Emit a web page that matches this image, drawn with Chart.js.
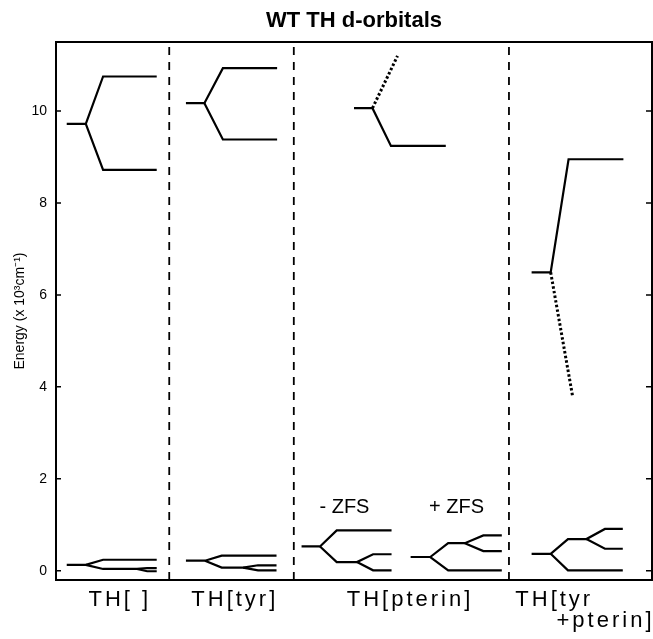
<!DOCTYPE html>
<html lang="en">
<head>
    <meta charset="UTF-8">
    <title>WT TH d-orbitals</title>
    <script src="https://cdn.jsdelivr.net/npm/chart.js"></script>
    <style>
        body { margin: 0; background: #fff; }
    </style>
</head>
<body>
    <canvas id="orbitalChart" width="653" height="639"></canvas>
    <script>
        // x = position across the diagram (0..100), y = energy in 10^3 cm^-1
        const panelLabels = ['TH[ ]', 'TH[tyr]', 'TH[pterin]', 'TH[tyr', '+pterin]'];
        const panelLabelX = [10.7, 30.0, 59.4, 83.6, 92.2];
        const panelLabelRow = [0, 0, 0, 0, 1];
        const dividerX = [19.0, 39.9, 76.0];
        const yTicks = [0, 2, 4, 6, 8, 10];
        const zfsLabels = ['- ZFS', '+ ZFS'];
        const zfsX = [48.4, 67.2];
        const zfsY = [1.26, 1.26];

        // TH[ ]
        const thHighUp = [[1.8, 9.72], [5.0, 9.72], [7.9, 10.75], [16.9, 10.75]];
        const thHighDown = [[5.0, 9.72], [7.9, 8.72], [16.9, 8.72]];
        const thLowUp = [[1.8, 0.13], [5.0, 0.13], [7.9, 0.24], [16.9, 0.24]];
        const thLowDown = [[5.0, 0.13], [7.9, 0.04], [13.6, 0.04], [15.3, 0.06], [16.9, 0.06]];
        const thLowSplit = [[13.6, 0.04], [15.3, -0.01], [16.9, -0.01]];

        // TH[tyr]
        const tyrHighUp = [[21.8, 10.17], [24.9, 10.17], [28.0, 10.93], [37.1, 10.93]];
        const tyrHighDown = [[24.9, 10.17], [28.0, 9.38], [37.1, 9.38]];
        const tyrLowUp = [[21.8, 0.22], [25.0, 0.22], [27.8, 0.33], [37.0, 0.33]];
        const tyrLowDown = [[25.0, 0.22], [27.8, 0.07], [31.4, 0.07], [33.9, 0.12], [37.0, 0.12]];
        const tyrLowSplit = [[31.4, 0.07], [33.9, 0.01], [37.0, 0.01]];

        // TH[pterin]
        const ptHighUp = [[53.1, 10.06], [57.3, 11.2]];
        const ptHighDown = [[50.0, 10.06], [53.1, 10.06], [56.2, 9.24], [65.4, 9.24]];
        const ptNegUp = [[41.2, 0.53], [44.3, 0.53], [47.1, 0.88], [56.3, 0.88]];
        const ptNegDown = [[44.3, 0.53], [47.1, 0.19], [50.5, 0.19], [53.2, 0.36], [56.3, 0.36]];
        const ptNegSplit = [[50.5, 0.19], [53.2, 0.01], [56.3, 0.01]];
        const ptPosUp = [[59.5, 0.30], [62.8, 0.30], [65.8, 0.60], [68.6, 0.60], [71.7, 0.77], [74.8, 0.77]];
        const ptPosSplit = [[68.6, 0.60], [71.7, 0.43], [74.8, 0.43]];
        const ptPosDown = [[62.8, 0.30], [65.8, 0.01], [74.8, 0.01]];

        // TH[tyr+pterin]
        const tpHighUp = [[79.8, 6.49], [83.0, 6.49], [86.0, 8.95], [95.2, 8.95]];
        const tpHighDown = [[83.0, 6.49], [86.7, 3.78]];
        const tpLowUp = [[79.8, 0.37], [83.0, 0.37], [85.9, 0.69], [89.0, 0.69], [92.1, 0.91], [95.1, 0.91]];
        const tpLowSplit = [[89.0, 0.69], [92.1, 0.48], [95.1, 0.48]];
        const tpLowDown = [[83.0, 0.37], [85.9, 0.01], [95.1, 0.01]];

        const solidLines = [thHighUp, thHighDown, thLowUp, thLowDown, thLowSplit,
            tyrHighUp, tyrHighDown, tyrLowUp, tyrLowDown, tyrLowSplit,
            ptHighDown, ptNegUp, ptNegDown, ptNegSplit, ptPosUp, ptPosSplit, ptPosDown,
            tpHighUp, tpLowUp, tpLowSplit, tpLowDown];
        const dottedLines = [ptHighUp, tpHighDown];

        const yMin = -0.2, yMax = 11.5;

        function toPoints(arr) {
            return arr.map(p => ({ x: p[0], y: p[1] }));
        }

        const datasets = [];
        solidLines.forEach(l => datasets.push({
            data: toPoints(l), showLine: true, pointRadius: 0,
            borderColor: '#000', borderWidth: 2.2, borderCapStyle: 'butt'
        }));
        dottedLines.forEach(l => datasets.push({
            data: toPoints(l), showLine: true, pointRadius: 0,
            borderColor: '#000', borderWidth: 3, borderDash: [2.5, 2.2], borderCapStyle: 'butt'
        }));
        dividerX.forEach(x => datasets.push({
            data: [{ x: x, y: yMin }, { x: x, y: yMax }], showLine: true, pointRadius: 0,
            borderColor: '#000', borderWidth: 1.8, borderDash: [8, 7]
        }));

        // frame, inward ticks and text labels
        const decorations = {
            id: 'decorations',
            afterDraw(chart) {
                const { ctx, chartArea: a, scales } = chart;
                ctx.save();
                ctx.strokeStyle = '#000';
                ctx.lineWidth = 2;
                ctx.strokeRect(a.left, a.top, a.right - a.left, a.bottom - a.top);
                ctx.lineWidth = 1.5;
                yTicks.forEach(v => {
                    const py = scales.y.getPixelForValue(v);
                    ctx.beginPath();
                    ctx.moveTo(a.left, py); ctx.lineTo(a.left + 5, py);
                    ctx.moveTo(a.right - 6, py); ctx.lineTo(a.right, py);
                    ctx.stroke();
                });
                ctx.fillStyle = '#000';
                ctx.textAlign = 'center';
                ctx.textBaseline = 'alphabetic';
                ctx.font = '20px "Liberation Sans", Arial, sans-serif';
                zfsLabels.forEach((t, i) => {
                    ctx.fillText(t, scales.x.getPixelForValue(zfsX[i]), scales.y.getPixelForValue(zfsY[i]));
                });
                ctx.font = '22px "Liberation Sans", Arial, sans-serif';
                ctx.letterSpacing = '3px';
                panelLabels.forEach((t, i) => {
                    ctx.fillText(t, scales.x.getPixelForValue(panelLabelX[i]), a.bottom + 26 + panelLabelRow[i] * 21);
                });
                ctx.restore();
            }
        };

        new Chart(document.getElementById('orbitalChart'), {
            type: 'scatter',
            data: { datasets: datasets },
            plugins: [decorations],
            options: {
                responsive: false,
                animation: false,
                layout: { padding: { top: 0, bottom: 59, left: 0, right: 1 } },
                plugins: {
                    legend: { display: false },
                    tooltip: { enabled: false },
                    title: {
                        display: true,
                        text: 'WT TH d-orbitals',
                        fullSize: false,
                        color: '#000',
                        font: { family: '"Liberation Sans", Arial, sans-serif', size: 22, weight: 'bold' },
                        padding: { top: 8, bottom: 7.6 }
                    }
                },
                scales: {
                    x: { type: 'linear', min: 0, max: 100, display: false },
                    y: {
                        min: yMin,
                        max: yMax,
                        afterBuildTicks: s => { s.ticks = yTicks.map(v => ({ value: v })); },
                        afterFit: s => { s.width = 56; },
                        grid: { display: false, drawTicks: false },
                        border: { display: false },
                        ticks: {
                            color: '#000',
                            padding: 9,
                            font: { family: '"Liberation Sans", Arial, sans-serif', size: 14 }
                        },
                        title: {
                            display: true,
                            text: 'Energy (x 10³cm⁻¹)',
                            color: '#000',
                            padding: { top: 12 },
                            font: { family: '"Liberation Sans", Arial, sans-serif', size: 14 }
                        }
                    }
                }
            }
        });
    </script>
</body>
</html>
